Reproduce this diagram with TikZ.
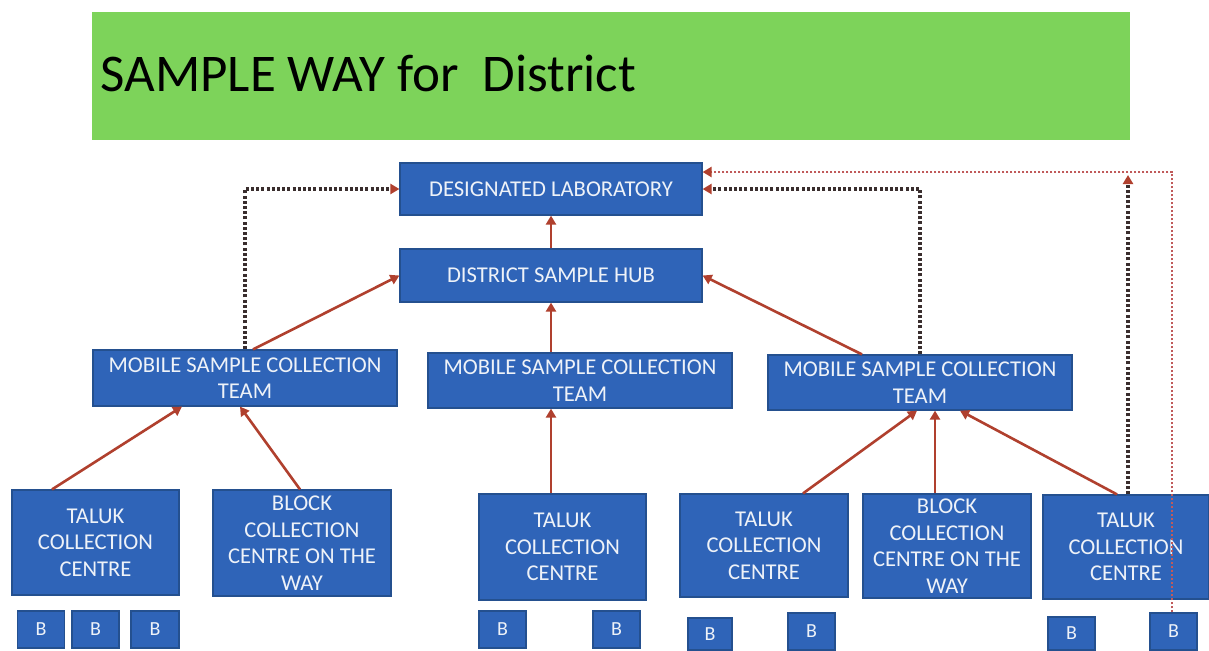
\documentclass[tikz,border=0pt]{standalone}
\usepackage{fontspec}
\setmainfont{Carlito}
\usetikzlibrary{arrows.meta,calc}
\definecolor{boxblue}{HTML}{2F64B8}
\definecolor{boxedge}{HTML}{24508F}
\definecolor{banner}{HTML}{7DD35A}
\definecolor{arrowred}{HTML}{B0402E}
\definecolor{dotdark}{HTML}{3A2E2E}
\definecolor{dotred}{HTML}{C05A5A}
\definecolor{txt}{HTML}{EEF2F8}
\begin{document}
\begin{tikzpicture}[x=0.5pt,y=-0.5pt,
  box/.style={draw=boxedge, line width=0.6pt, fill=boxblue, text=txt, align=center,
    inner sep=0pt, font=\fontsize{11.3}{13.3}\selectfont},
  bbox/.style={box, minimum width=23.5pt, minimum height=18.5pt, font=\fontsize{10}{12}\selectfont},
  solidarrow/.style={draw=arrowred, line width=1.3pt,
    -{Triangle[length=4.5pt,width=5pt]}},
  dotline/.style={draw=dotdark, line width=1.6pt, dash pattern=on 1.5pt off 1.1pt,
    -{Triangle[length=4.5pt,width=5pt,color=arrowred]}},
  reddot/.style={draw=dotred, line width=1.1pt, dash pattern=on 1.1pt off 0.9pt,
    -{Triangle[length=4.5pt,width=5pt,color=arrowred]}}
]
\useasboundingbox (0,0) rectangle (1209,650);
\fill[white] (0,0) rectangle (1209,650);
% banner
\fill[banner] (92,12) rectangle (1130,140);
\node[anchor=base west, inner sep=0pt, font=\fontsize{26.5}{30}\selectfont] (title) at (100,91) {SAMPLE WAY for\ \ District};

% main boxes
\node[box, minimum width=151pt, minimum height=26pt] (lab) at (551,189) {DESIGNATED LABORATORY};
\node[box, minimum width=151pt, minimum height=26.5pt] (hub) at (551,275.5) {DISTRICT SAMPLE HUB};
\node[box, minimum width=152pt, minimum height=28pt] (m1) at (245,378) {MOBILE SAMPLE COLLECTION\\TEAM};
\node[box, minimum width=152pt, minimum height=27.5pt] (m2) at (580,380.5) {MOBILE SAMPLE COLLECTION\\TEAM};
\node[box, minimum width=152pt, minimum height=27.5pt] (m3) at (920,382.5) {MOBILE SAMPLE COLLECTION\\TEAM};

\node[box, minimum width=83.5pt, minimum height=52.5pt] (t1) at (95.5,542.5) {TALUK\\COLLECTION\\CENTRE};
\node[box, minimum width=89pt, minimum height=53pt] (b1) at (302,543) {BLOCK\\COLLECTION\\CENTRE ON THE\\WAY};
\node[box, minimum width=83.5pt, minimum height=53pt] (t2) at (562.5,547) {TALUK\\COLLECTION\\CENTRE};
\node[box, minimum width=84pt, minimum height=51.5pt] (t3) at (764,545.5) {TALUK\\COLLECTION\\CENTRE};
\node[box, minimum width=84pt, minimum height=52pt] (b2) at (947,546) {BLOCK\\COLLECTION\\CENTRE ON THE\\WAY};
\node[box, minimum width=83pt, minimum height=52pt] (t4) at (1126,547) {TALUK\\COLLECTION\\CENTRE};

% B boxes
\node[bbox] (B1) at (41,629.5) {B};
\node[bbox] (B2) at (95.5,629.5) {B};
\node[bbox, minimum width=24pt] (B3) at (155,629.5) {B};
\node[bbox] (B4) at (502.5,629.5) {B};
\node[bbox] (B5) at (616.5,629.5) {B};
\node[bbox, minimum width=22pt, minimum height=16pt] (B6) at (710,634) {B};
\node[bbox] (B7) at (811.5,631.5) {B};
\node[bbox, minimum height=16.5pt] (B8) at (1071.5,633.5) {B};
\node[bbox] (B9) at (1173.5,631.5) {B};

% solid arrows
\draw[solidarrow] (hub.north) -- (lab.south);
\draw[solidarrow] (hub.south |- m2.north) -- (hub.south);
\draw[solidarrow] ([xshift=4pt]m1.north) -- (hub.west);
\draw[solidarrow] ([xshift=-29pt]m3.north) -- (hub.east);
\draw[solidarrow] ([xshift=-21.75pt]t1.north) -- ([xshift=-31.5pt]m1.south);
\draw[solidarrow] ([xshift=-1pt]b1.north) -- ([xshift=-2.5pt]m1.south);
\draw[solidarrow] (hub.south |- t2.north) -- (hub.south |- m2.south);
\draw[solidarrow] ([xshift=19.5pt]t3.north) -- ([xshift=-1.5pt]m3.south);
\draw[solidarrow] ([xshift=-6pt]b2.north) -- ([xshift=7.5pt]m3.south);
\draw[solidarrow] ([xshift=-4.5pt]t4.north) -- ([xshift=20pt]m3.south);

% dotted arrows
\coordinate (j) at (1128,175);
\draw[dotline] (m1.north) |- (lab.west);
\draw[dotline] (m3.north) |- (lab.east);
\draw[dotline] ([xshift=1pt]t4.north) -- (j);
\draw[reddot] ([xshift=-0.75pt]B9.north) |- ([yshift=8.5pt]lab.east);
\end{tikzpicture}
\end{document}
